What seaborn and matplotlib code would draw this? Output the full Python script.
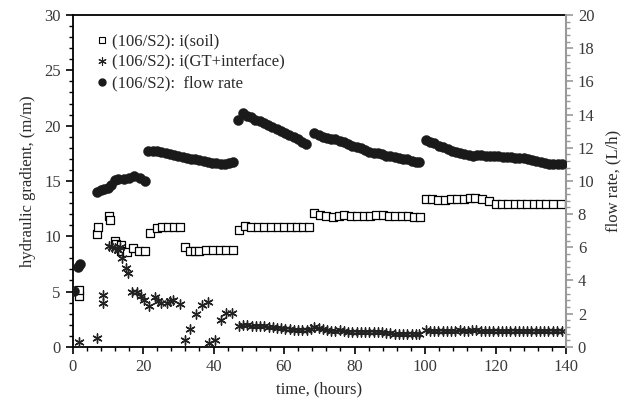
import numpy as np
import pandas as pd
import matplotlib
matplotlib.use("Agg")
import matplotlib.pyplot as plt
import seaborn as sns
from matplotlib.ticker import MultipleLocator
from matplotlib.lines import Line2D

# ---------------- data ----------------
t_soil = [1.7, 1.9, 6.9, 7.2, 10.4, 10.7, 12.1, 12.4, 13.8, 13.8, 15.4, 17.1, 18.9, 20.6,
          22.0, 23.9, 25.3, 27.2, 28.8, 30.5,
          31.9, 33.2, 34.6, 36.0, 37.9, 39.8, 41.7, 43.6, 45.5,
          47.2, 48.8, 50.7, 52.5, 54.4, 56.3, 58.2, 60.0, 61.9, 63.8, 65.5, 67.2,
          68.6, 70.3, 72.0, 73.8, 75.5, 77.1, 79.0, 80.8, 82.6, 84.4, 86.2, 88.0, 89.8, 91.6, 93.4, 95.2, 97.0, 98.6,
          100.2, 102.0, 103.8, 105.6, 107.4, 109.2, 111.0, 112.8, 114.3, 116.2, 118.1, 120.0, 121.8, 123.6,
          125.4, 127.2, 129.0, 130.8, 132.6, 134.4, 136.2, 138.6]
i_soil = [4.55, 5.1, 10.2, 10.8, 11.8, 11.45, 9.6, 9.3, 9.2, 8.7, 8.6, 8.9, 8.7, 8.65,
          10.3, 10.75, 10.85, 10.8, 10.8, 10.8,
          9.0, 8.67, 8.7, 8.7, 8.8, 8.8, 8.8, 8.8, 8.8,
          10.6, 10.9, 10.8, 10.8, 10.8, 10.8, 10.8, 10.85, 10.85, 10.85, 10.85, 10.85,
          12.06, 11.9, 11.8, 11.76, 11.85, 11.9, 11.85, 11.85, 11.85, 11.85, 11.9, 11.9, 11.85, 11.85, 11.8, 11.8, 11.7, 11.7,
          13.4, 13.35, 13.3, 13.3, 13.35, 13.35, 13.4, 13.45, 13.5, 13.35, 13.2, 12.95, 12.9, 12.9,
          12.9, 12.9, 12.9, 12.9, 12.9, 12.95, 12.95, 12.95]

t_gt = [1.9, 6.9, 8.6, 8.6, 10.4, 11.1, 12.1, 13.0, 13.5, 14.0, 15.2, 15.6, 16.8, 18.4, 19.4,
        20.4, 21.8, 23.4, 24.2, 25.0, 26.7, 27.6, 28.6, 30.5,
        31.8, 33.4, 35.1, 36.8, 38.4, 38.7, 40.3, 42.2, 43.6, 45.3,
        47.2, 48.4, 49.6, 50.8, 52.0, 53.2, 54.4, 55.6, 56.8, 58.0, 59.2, 60.4, 61.6, 62.8, 64.0, 65.2, 66.4, 67.6,
        68.6, 69.8, 71.0, 72.2, 73.4, 74.6, 75.8, 77.0, 78.2, 79.4, 80.6, 81.8, 83.0, 84.2, 85.4, 86.6, 87.8,
        89.0, 90.2, 91.4, 92.6, 93.8, 95.0, 96.2, 97.4, 98.4,
        100.2, 101.4, 102.6, 103.8, 105.0, 106.2, 107.4, 108.6, 109.8, 111.0, 112.2, 113.4, 114.6, 115.8,
        117.0, 118.2, 119.4, 120.6, 121.8, 123.0, 124.2, 125.4, 126.6, 127.8, 129.0, 130.2, 131.4, 132.6,
        133.8, 135.0, 136.2, 137.4, 138.8]
i_gt = [0.4, 0.8, 4.7, 4.0, 9.1, 9.0, 8.9, 8.8, 9.0, 8.0, 7.15, 6.7, 5.0, 5.0, 4.6,
        4.2, 3.7, 4.5, 4.1, 4.0, 4.0, 4.1, 4.2, 3.9,
        0.6, 1.57, 3.0, 3.77, 4.07, 0.3, 0.66, 2.4, 3.1, 3.1,
        1.9, 2.0, 1.95, 1.9, 1.9, 1.85, 1.85, 1.8, 1.75, 1.7, 1.7, 1.65, 1.6, 1.55, 1.5, 1.5, 1.55, 1.6,
        1.8, 1.7, 1.6, 1.5, 1.4, 1.45, 1.5, 1.4, 1.35, 1.35, 1.35, 1.3, 1.3, 1.3, 1.3, 1.3, 1.3,
        1.25, 1.25, 1.2, 1.2, 1.15, 1.2, 1.15, 1.2, 1.2,
        1.5, 1.45, 1.45, 1.45, 1.45, 1.45, 1.45, 1.45, 1.5, 1.45, 1.45, 1.5, 1.5, 1.45,
        1.45, 1.45, 1.45, 1.45, 1.45, 1.45, 1.4, 1.4, 1.4, 1.4, 1.4, 1.4, 1.4, 1.4,
        1.4, 1.4, 1.4, 1.4, 1.4]

t_flow = [0.3, 1.5, 2.0, 7.0, 8.0, 9.0, 10.0, 11.0, 12.0, 13.0, 14.5, 16.0, 17.3, 19.0, 20.5,
          21.5, 22.7, 24.0, 25.2, 26.4, 27.6, 28.8, 30.0, 31.2, 32.4, 33.6, 34.8, 36.0, 37.2, 38.4,
          39.6, 40.8, 42.0, 43.2, 44.4, 45.6,
          46.9, 48.3, 49.5, 50.7, 51.9, 53.1, 54.3, 55.5, 56.7, 57.9, 59.1, 60.3, 61.5, 62.7, 63.9, 65.1, 66.3,
          68.6, 69.8, 71.0, 72.2, 73.4, 74.6, 75.8, 77.0, 78.2, 79.4, 80.6, 81.8, 83.0, 84.2, 85.4, 86.6,
          87.8, 89.0, 90.2, 91.4, 92.6, 93.8, 95.0, 96.2, 97.4, 98.4,
          100.2, 101.4, 102.6, 104.0, 105.2, 106.4, 107.6, 108.8, 110.0, 111.2, 112.4, 113.6, 114.8, 116.0,
          117.2, 118.4, 119.6, 120.8, 122.0, 123.2, 124.4, 125.6, 126.8, 128.0, 129.2, 130.4, 131.6, 132.8,
          134.0, 135.2, 136.4, 137.6, 138.8]
flow = [3.35, 4.8, 5.0, 9.33, 9.43, 9.53, 9.6, 9.73, 10.07, 10.1, 10.13, 10.2, 10.27, 10.2, 10.0,
        11.8, 11.8, 11.8, 11.73, 11.7, 11.63, 11.57, 11.53, 11.47, 11.4, 11.33, 11.3, 11.27, 11.2, 11.13,
        11.1, 11.07, 11.03, 11.03, 11.07, 11.13,
        13.67, 14.07, 13.93, 13.83, 13.7, 13.6, 13.47, 13.37, 13.27, 13.13, 13.03, 12.9, 12.8, 12.67, 12.53, 12.37, 12.2,
        12.87, 12.77, 12.67, 12.57, 12.53, 12.5, 12.4, 12.33, 12.23, 12.13, 12.07, 11.97, 11.87, 11.77, 11.7, 11.67,
        11.6, 11.53, 11.5, 11.43, 11.37, 11.33, 11.3, 11.23, 11.17, 11.17,
        12.47, 12.33, 12.27, 12.13, 12.03, 11.93, 11.8, 11.73, 11.67, 11.63, 11.57, 11.53, 11.57, 11.57,
        11.53, 11.53, 11.53, 11.5, 11.47, 11.47, 11.43, 11.4, 11.4, 11.37, 11.3, 11.27, 11.2, 11.13,
        11.1, 11.03, 11.0, 11.0, 11.0]

labels = ["(106/S2): i(soil)", "(106/S2): i(GT+interface)", "(106/S2):  flow rate"]

# ---------------- style ----------------
sns.set_style("ticks")
plt.rcParams["font.family"] = ["Liberation Serif", "DejaVu Serif"]

fig = plt.figure(figsize=(6.31, 4.08), dpi=100)
ax = fig.add_axes([0.115, 0.150, 0.782, 0.813])
ax2 = ax.twinx()

df_soil = pd.DataFrame({"t": t_soil, "v": i_soil})
df_gt = pd.DataFrame({"t": t_gt, "v": i_gt})
df_flow = pd.DataFrame({"t": t_flow, "v": flow})

sns.scatterplot(data=df_soil, x="t", y="v", ax=ax, marker="s", s=36,
                facecolor="white", edgecolor="black", linewidth=0.9, zorder=3)
sns.scatterplot(data=df_gt, x="t", y="v", ax=ax, marker=(6, 2, 0), s=44,
                color="#222222", edgecolor="#222222", linewidth=1.0, zorder=3)
sns.scatterplot(data=df_flow, x="t", y="v", ax=ax2, marker="o", s=52,
                color="#1a1a1a", edgecolor="#1a1a1a", linewidth=0.3, zorder=3)

ax.set_xlim(0, 140)
ax.set_ylim(0, 30)
ax2.set_ylim(0, 20)
ax.xaxis.set_major_locator(MultipleLocator(20))
ax.xaxis.set_minor_locator(MultipleLocator(4))
ax.yaxis.set_major_locator(MultipleLocator(5))
ax.yaxis.set_minor_locator(MultipleLocator(1))
ax2.yaxis.set_major_locator(MultipleLocator(2))
ax2.yaxis.set_minor_locator(MultipleLocator(0.4))

tick_col = "#3a3a3a"
ax.tick_params(axis="both", which="major", direction="out", length=5, width=1.2,
               color="black", labelsize=12, labelcolor=tick_col)
ax.tick_params(axis="both", which="minor", direction="out", length=3, width=1.0, color="black")
ax2.tick_params(axis="y", which="major", direction="out", length=5, width=1.2,
                color="#999999", labelsize=12, labelcolor=tick_col)
ax2.tick_params(axis="y", which="minor", direction="out", length=3, width=1.0, color="#999999")

for s in ["left", "bottom", "top"]:
    ax.spines[s].set_visible(True)
    ax.spines[s].set_color("black")
    ax.spines[s].set_linewidth(1.3)
ax.spines["right"].set_visible(False)
for s in ["left", "bottom", "top"]:
    ax2.spines[s].set_visible(False)
ax2.spines["right"].set_visible(True)
ax2.spines["right"].set_color("#999999")
ax2.spines["right"].set_linewidth(1.5)

ax.set_xlabel("time, (hours)", fontsize=12, color="#2a2a2a", labelpad=5)
ax.set_ylabel("hydraulic gradient, (m/m)", fontsize=12, color="#2a2a2a", labelpad=6)
ax2.set_ylabel("flow rate, (L/h)", fontsize=12, color="#2a2a2a", labelpad=8)

handles = [
    Line2D([], [], linestyle="none", marker="s", markersize=5, markerfacecolor="white",
           markeredgecolor="black", markeredgewidth=0.8),
    Line2D([], [], linestyle="none", marker=(6, 2, 0), markersize=6, color="#222222",
           markeredgewidth=0.8),
    Line2D([], [], linestyle="none", marker="o", markersize=5, color="#1a1a1a"),
]
ax.legend(handles, labels, loc="upper left", bbox_to_anchor=(0.03, 0.975), frameon=False,
          fontsize=12, handlelength=0.6, handletextpad=0.25, labelspacing=0.3,
          borderaxespad=0.2, labelcolor="#2a2a2a")

fig.savefig("out.png", dpi=100)
